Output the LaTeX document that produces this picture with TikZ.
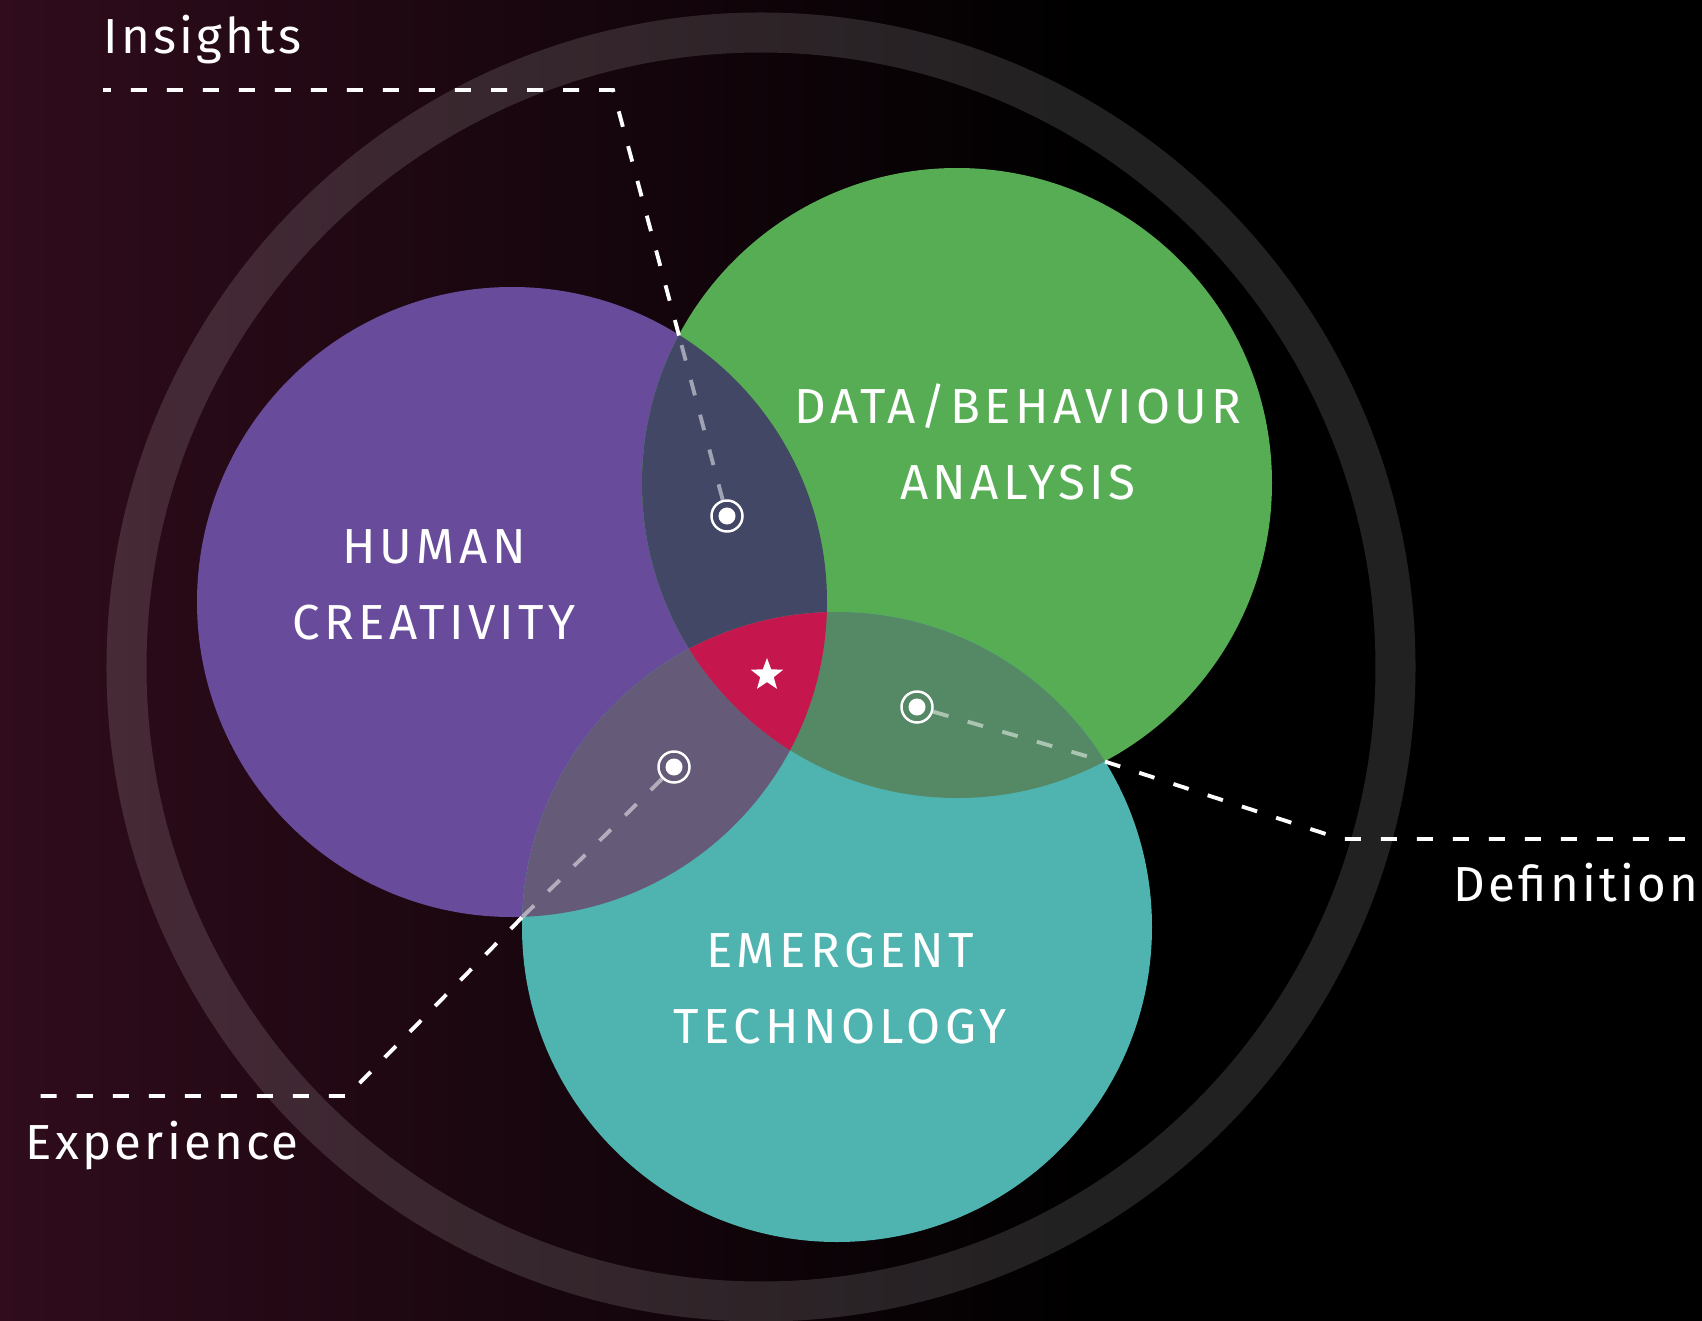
\documentclass[tikz,border=0pt]{standalone}
\usepackage{fontspec}
\setmainfont[LetterSpace=9]{Fira Sans}
\usetikzlibrary{shapes.geometric}

\definecolor{bgwine}{RGB}{48,12,28}
\definecolor{humanpurple}{RGB}{104,75,154}
\definecolor{datagreen}{RGB}{87,173,83}
\definecolor{techteal}{RGB}{79,179,176}
\definecolor{insightlens}{RGB}{66,71,102}
\definecolor{experiencelens}{RGB}{101,90,119}
\definecolor{definitionlens}{RGB}{85,137,101}
\definecolor{corecrimson}{RGB}{198,22,78}

\begin{document}
\begin{tikzpicture}[x=0.01cm,y=-0.01cm,
		every node/.style={text=white,font=\fontsize{14}{21.6}\selectfont},
		venn/.style={align=center},
		tag/.style={inner sep=0pt,font=\fontsize{14}{21.6}\selectfont\addfontfeatures{LetterSpace=6.5}},
		guide/.style={draw=white,line width=1.1pt,dash pattern=on 0.16cm off 0.2cm},
		faded/.style={guide,draw opacity=0.5},
		marker/.style={circle,draw=white,line width=0.7pt,minimum size=0.31cm,inner sep=0pt,
			path picture={\fill[white] (path picture bounding box.center) circle (0.085cm);}}]
	\useasboundingbox (0,0) rectangle (1702,1321);

	% background and outer ring
	\fill[black] (0,0) rectangle (1702,1321);
	\shade[left color=bgwine,right color=black] (0,0) rectangle (1100,1321);
	\draw[white,opacity=0.13,line width=0.4cm] (761,667) circle (634.5);

	% the three sets
	\coordinate (hc) at (512,602);
	\coordinate (dc) at (957,483);
	\coordinate (tc) at (837,927);
	\fill[humanpurple] (hc) circle (315);
	\fill[datagreen] (dc) circle (315);
	\fill[techteal] (tc) circle (315);

	% overlaps
	\begin{scope}
		\clip (hc) circle (315);
		\fill[insightlens] (dc) circle (315);
		\fill[experiencelens] (tc) circle (315);
	\end{scope}
	\begin{scope}
		\clip (dc) circle (315);
		\fill[definitionlens] (tc) circle (315);
	\end{scope}
	\begin{scope}
		\clip (hc) circle (315);
		\clip (dc) circle (315);
		\fill[corecrimson] (tc) circle (315);
	\end{scope}

	\node[venn] (human) at (434,585) {HUMAN\\CREATIVITY};
	\node[venn] (data) at (1018,442) {DATA/BEHAVIOUR\\ANALYSIS};
	\node[venn] (tech) at (840,989) {EMERGENT\\TECHNOLOGY};

	\node[star,star points=5,star point ratio=2.4,fill=white,minimum size=0.34cm,inner sep=0pt] (core) at (767,675) {};

	% markers and their leaders
	\node[marker] (mkInsights) at (727,516) {};
	\node[marker] (mkDefinition) at (917,707) {};
	\node[marker] (mkExperience) at (674,767) {};

	\coordinate (inEdge) at (679,335.5);
	\coordinate (inCorner) at (613,90);
	\coordinate (inEnd) at (103,90);
	\coordinate (deEdge) at (1105,761.5);
	\coordinate (deCorner) at (1341,839);
	\coordinate (deEnd) at (1690,839);
	\coordinate (exEdge) at (522,917.4);
	\coordinate (exCorner) at (347,1096);
	\coordinate (exEnd) at (27,1096);

	\draw[faded] (mkInsights) -- (inEdge);
	\draw[guide] (inEdge) -- (inCorner) -- (inEnd);
	\draw[faded] (mkDefinition) -- (deEdge);
	\draw[guide] (deEdge) -- (deCorner) -- (deEnd);
	\draw[faded] (mkExperience) -- (exEdge);
	\draw[guide] (exEdge) -- (exCorner) -- (exEnd);

	\node[tag,anchor=base west] (insights) at (103,54) {Insights};
	\node[tag,anchor=base east] (definition) at (1699,901) {Definition};
	\node[tag,anchor=base west] (experience) at (25,1159) {Experience};
\end{tikzpicture}
\end{document}
